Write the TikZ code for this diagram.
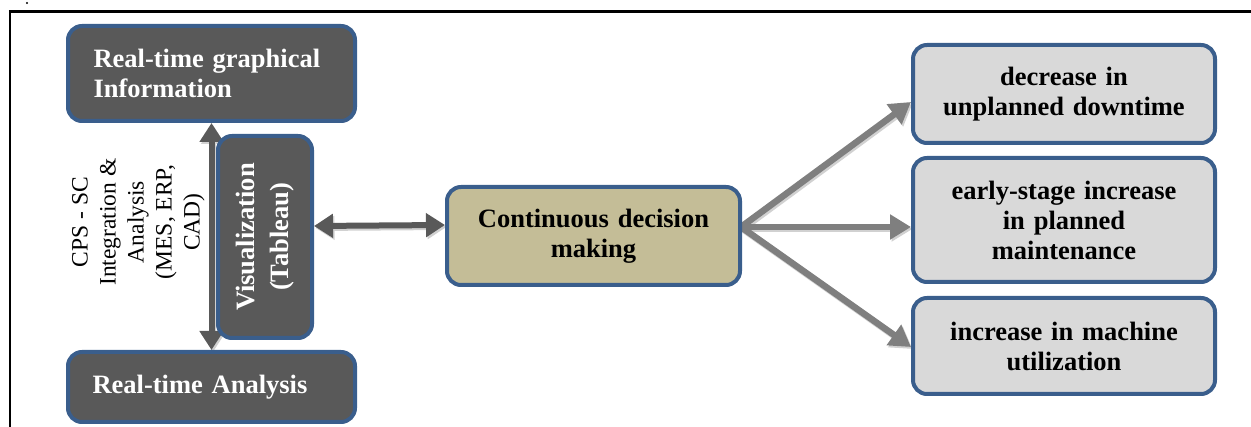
\documentclass[tikz,border=0pt]{standalone}
\usepackage{fontspec}
\setmainfont{Liberation Serif}
\usetikzlibrary{arrows.meta,backgrounds}
\definecolor{bordblue}{HTML}{3A5E8C}
\definecolor{darkfill}{HTML}{595959}
\definecolor{lightfill}{HTML}{D9D9D9}
\definecolor{tanfill}{HTML}{C4BD97}
\definecolor{arrowgray}{HTML}{7F7F7F}
\definecolor{darkarrow}{HTML}{595959}
\newcommand\mybf{\fontsize{26.5}{30}\selectfont\bfseries}
\newcommand\myrm{\fontsize{23.5}{28}\selectfont}
\begin{document}
\begin{tikzpicture}[x=1pt,y=-1pt,
  box/.style={draw=bordblue, line width=4pt, rounded corners=14pt, inner sep=0pt, font=\mybf},
  dbox/.style={box, fill=darkfill, text=white},
  lbox/.style={box, fill=lightfill, text=black, text width=290pt, align=center, minimum width=302pt},
  tbox/.style={box, fill=tanfill, text=black, text width=280pt, align=center},
  dblarrow/.style={draw=darkarrow, line width=6pt, {Triangle[length=19pt,width=23pt]}-{Triangle[length=19pt,width=23pt]}},
  outarrow/.style={draw=arrowgray, line width=6.5pt, -{Triangle[length=21pt,width=24pt]}},
  shadowed/.style={draw=black!18, transform canvas={shift={(1.5pt,-2pt)}}},
  plaintext/.style={inner sep=0pt}
]
\useasboundingbox (0,0) rectangle (1251,427);

% frame
\draw[line width=2.5pt] (8.8,11.5) -- (1251,11.5);
\draw[line width=2.5pt] (10,10.3) -- (10,427);
\fill (27,3) circle (1.1pt);

% left column
\node[dbox, minimum width=287pt, minimum height=95pt, text width=236pt, align=left] (rtg) at (211.5,73.5)
  {Real-time graphical\\Information};
\node[dbox, minimum width=287pt, minimum height=70pt, text width=238pt, align=left] (rta) at (211.5,387)
  {Real-time Analysis};
\node[dbox, minimum width=94pt, minimum height=202pt] (vis) at (265,237)
  {\rotatebox{90}{\fontsize{26.5}{34}\selectfont\begin{tabular}{@{}c@{}}Visualization\\(Tableau)\end{tabular}}};
\node[plaintext, font=\myrm] (cps) at (138,222)
  {\rotatebox{90}{\begin{tabular}{@{}c@{}}CPS - SC\\Integration \&\\Analysis\\(MES, ERP,\\CAD)\end{tabular}}};

% centre
\node[tbox, minimum width=293pt, minimum height=98pt] (cdm) at (593.5,236)
  {Continuous decision\\making};

% right column
\node[lbox, minimum height=98pt] (r1) at (1064,94)
  {decrease in\\unplanned downtime};
\node[lbox, minimum height=124pt] (r2) at (1064,220)
  {early-stage increase\\in planned\\maintenance};
\node[lbox, minimum height=96pt] (r3) at (1064,346)
  {increase in machine\\utilization};

\coordinate (src) at (741,227);

\begin{pgfonlayer}{background}
  % shadows
  \draw[dblarrow, shadowed] (rtg.south) -- (rta.north);
  \draw[dblarrow, shadowed] ([yshift=11pt]vis.east) -- ([yshift=11pt]cdm.west);
  \draw[outarrow, shadowed] (src) -- ([yshift=-8pt]r1.west);
  \draw[outarrow, shadowed] (src) -- ([yshift=-7pt]r2.west);
  \draw[outarrow, shadowed] (src) -- ([yshift=-1pt]r3.west);
  % arrows
  \draw[dblarrow] (rtg.south) -- (rta.north);
  \draw[dblarrow] ([yshift=11pt]vis.east) -- ([yshift=11pt]cdm.west);
  \draw[outarrow] (src) -- ([yshift=-8pt]r1.west);
  \draw[outarrow] (src) -- ([yshift=-7pt]r2.west);
  \draw[outarrow] (src) -- ([yshift=-1pt]r3.west);
\end{pgfonlayer}
\end{tikzpicture}
\end{document}
